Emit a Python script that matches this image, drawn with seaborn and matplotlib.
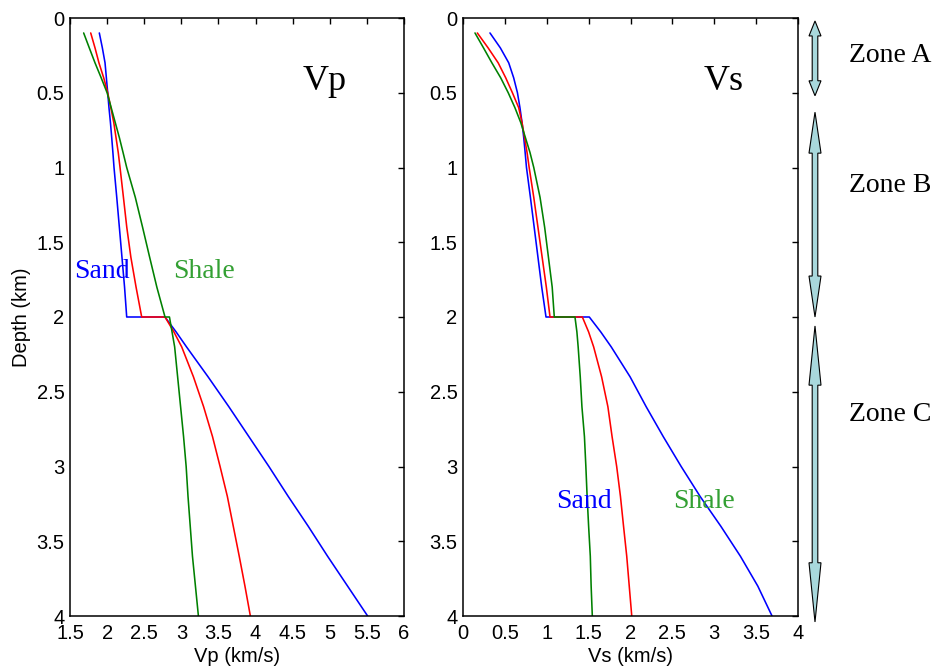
import numpy as np
import pandas as pd
import matplotlib
matplotlib.use("Agg")
import matplotlib.pyplot as plt
import matplotlib.transforms as mtransforms
from matplotlib.patches import Polygon
from matplotlib.ticker import FuncFormatter
import seaborn as sns

# ---------------- data ----------------
depth = [0.1, 0.2, 0.3, 0.4, 0.5, 0.6, 0.7, 0.8, 0.9, 1.0, 1.2, 1.4, 1.6, 1.8, 2.0,
         2.0, 2.1, 2.2, 2.4, 2.6, 2.8, 3.0, 3.2, 3.4, 3.6, 3.8, 4.0]

vp_sand = [1.895, 1.936, 1.972, 1.99, 2.008, 2.025, 2.045, 2.062, 2.078, 2.093, 2.13, 2.165, 2.20, 2.235, 2.264,
           2.78, 2.93, 3.07, 3.36, 3.64, 3.91, 4.18, 4.44, 4.71, 4.97, 5.24, 5.51]
vp_mix = [1.779, 1.837, 1.89, 1.954, 2.008, 2.05, 2.09, 2.12, 2.15, 2.174, 2.22, 2.265, 2.32, 2.39, 2.466,
          2.78, 2.90, 3.005, 3.163, 3.30, 3.42, 3.522, 3.62, 3.70, 3.78, 3.857, 3.93]
vp_shale = [1.684, 1.76, 1.837, 1.92, 2.00, 2.055, 2.11, 2.165, 2.215, 2.264, 2.38, 2.478, 2.573, 2.67, 2.78,
            2.84, 2.875, 2.91, 2.95, 2.99, 3.03, 3.065, 3.09, 3.12, 3.15, 3.19, 3.23]

vs_sand = [0.322, 0.446, 0.546, 0.605, 0.65, 0.68, 0.705, 0.725, 0.742, 0.758, 0.805, 0.85, 0.895, 0.94, 0.991,
           1.508, 1.645, 1.77, 1.995, 2.187, 2.391, 2.605, 2.831, 3.079, 3.312, 3.52, 3.69]
vs_mix = [0.171, 0.30, 0.42, 0.51, 0.59, 0.665, 0.705, 0.735, 0.765, 0.79, 0.845, 0.895, 0.945, 0.995, 1.039,
          1.425, 1.50, 1.56, 1.655, 1.73, 1.78, 1.835, 1.88, 1.917, 1.955, 1.985, 2.015]
vs_shale = [0.143, 0.245, 0.345, 0.45, 0.54, 0.62, 0.69, 0.745, 0.80, 0.845, 0.92, 0.975, 1.02, 1.065, 1.09,
            1.337, 1.36, 1.375, 1.40, 1.42, 1.45, 1.467, 1.482, 1.50, 1.52, 1.53, 1.544]

series_names = ["sand", "mix", "shale"]
vp_ticks = [1.5, 2, 2.5, 3, 3.5, 4, 4.5, 5, 5.5, 6]
vs_ticks = [0, 0.5, 1, 1.5, 2, 2.5, 3, 3.5, 4]
depth_ticks = [0, 0.5, 1, 1.5, 2, 2.5, 3, 3.5, 4]

zone_names = ["Zone A", "Zone B", "Zone C"]
zone_top = [0.02, 0.63, 2.06]
zone_bottom = [0.52, 2.00, 4.04]

# ---------------- frame ----------------
def long_frame(vals):
    rows = []
    for name, v in zip(series_names, vals):
        for d, x in zip(depth, v):
            rows.append({"series": name, "depth": d, "vel": x})
    return pd.DataFrame(rows)

df_vp = long_frame([vp_sand, vp_mix, vp_shale])
df_vs = long_frame([vs_sand, vs_mix, vs_shale])

sns.set_style("white")
plt.rcParams["font.family"] = ["Liberation Sans", "DejaVu Sans"]
plt.rcParams["text.color"] = "black"
plt.rcParams["axes.labelcolor"] = "black"
plt.rcParams["xtick.color"] = "black"
plt.rcParams["ytick.color"] = "black"
serif = ["Liberation Serif", "DejaVu Serif"]

palette = {"sand": "#0000ff", "mix": "#ff0000", "shale": "#008000"}

fig = plt.figure(figsize=(9.34, 6.68), dpi=100)
W, H = 934, 668
ax1 = fig.add_axes([70 / W, 52 / H, 334 / W, 598 / H])
ax2 = fig.add_axes([463 / W, 52 / H, 335 / W, 598 / H])

fmt = FuncFormatter(lambda v, p: "%g" % v)

for ax, df, ticks, lim, xlabel in [
    (ax1, df_vp, vp_ticks, (1.5, 6), "Vp (km/s)"),
    (ax2, df_vs, vs_ticks, (0, 4), "Vs (km/s)"),
]:
    sns.lineplot(data=df, x="vel", y="depth", hue="series", palette=palette,
                 sort=False, estimator=None, legend=False, ax=ax, linewidth=1.15)
    ax.set_xlim(*lim)
    ax.set_ylim(4, 0)
    ax.set_xticks(ticks)
    ax.set_yticks(depth_ticks)
    ax.xaxis.set_major_formatter(fmt)
    ax.yaxis.set_major_formatter(fmt)
    ax.tick_params(direction="in", length=4, width=1, top=True, right=True,
                   labelsize=14.5, pad=4, colors="black")
    ax.tick_params(axis="x", pad=6)
    for s in ax.spines.values():
        s.set_linewidth(1.1)
        s.set_color("black")
    ax.set_xlabel(xlabel, fontsize=14.5, labelpad=3, color="black")
    ax.set_ylabel("")

ax1.set_ylabel("Depth (km)", fontsize=14.5, labelpad=4, color="black")

# panel titles and labels
ax1.text(4.64, 0.482, "Vp", fontsize=26, family=serif, color="black", ha="left", va="baseline")
ax2.text(2.87, 0.482, "Vs", fontsize=26, family=serif, color="black", ha="left", va="baseline")
ax1.text(1.554, 1.737, "Sand", fontsize=20, family=serif, color="#0000ff", ha="left", va="baseline")
ax1.text(2.884, 1.737, "Shale", fontsize=20, family=serif, color="#33a033", ha="left", va="baseline")
ax2.text(1.11, 3.276, "Sand", fontsize=20, family=serif, color="#0000ff", ha="left", va="baseline")
ax2.text(2.51, 3.276, "Shale", fontsize=20, family=serif, color="#33a033", ha="left", va="baseline")

# zone arrows
blend = mtransforms.blended_transform_factory(fig.transFigure, ax2.transData)
cx = 815 / W
sw = 2.8 / W
hw = 6.0 / W
label_depth = [0.294, 1.164, 2.696]
for name, top, bot, ld in zip(zone_names, zone_top, zone_bottom, label_depth):
    hl = 0.2 * (bot - top)
    pts = [(cx, top), (cx + hw, top + hl), (cx + sw, top + hl), (cx + sw, bot - hl),
           (cx + hw, bot - hl), (cx, bot), (cx - hw, bot - hl), (cx - sw, bot - hl),
           (cx - sw, top + hl), (cx - hw, top + hl)]
    poly = Polygon(pts, closed=True, transform=blend, facecolor="#a8d8dc",
                   edgecolor="black", linewidth=0.8, clip_on=False)
    ax2.add_patch(poly)
    ax2.text(849 / W, ld, name, transform=blend, fontsize=20, family=serif,
             color="black", ha="left", va="baseline", clip_on=False)

fig.savefig("out.png", dpi=100)
